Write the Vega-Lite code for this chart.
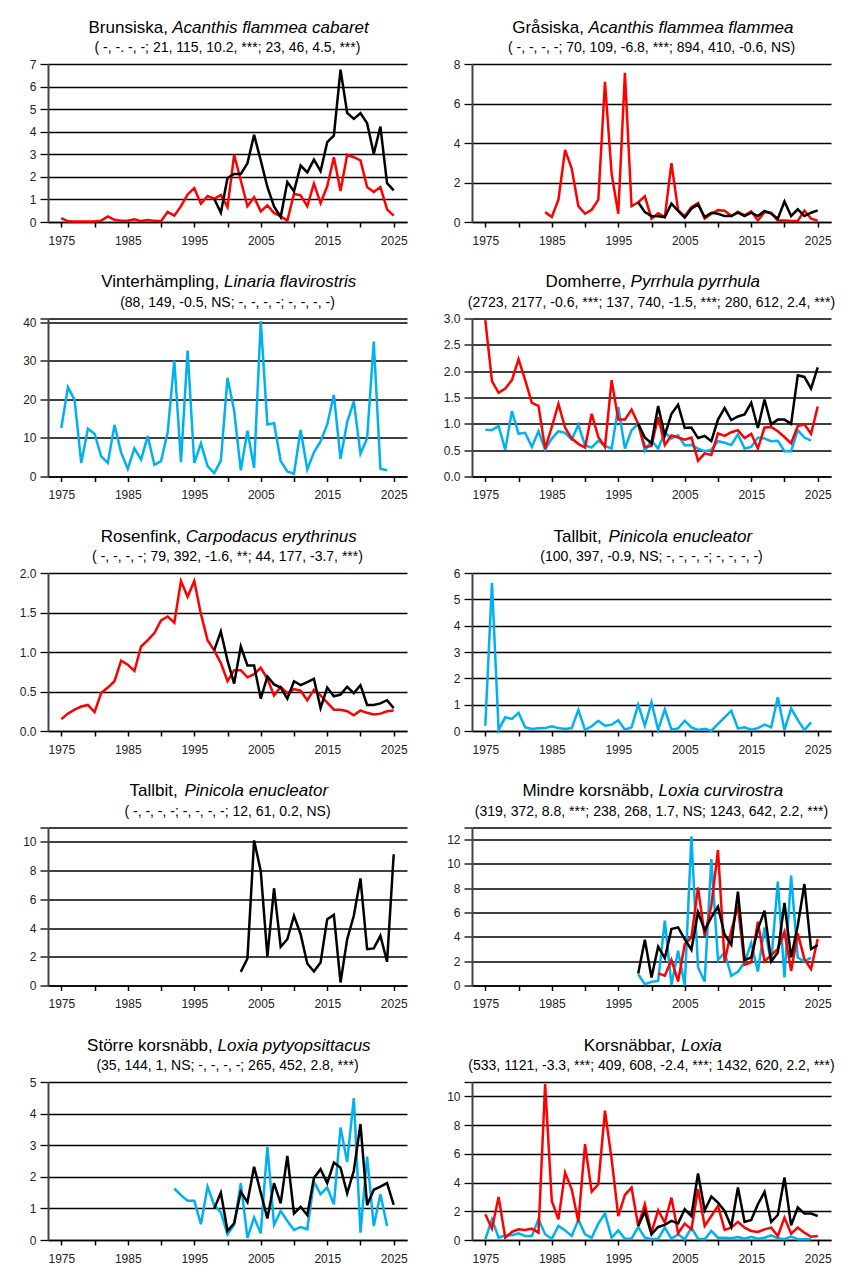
{
"$schema":"https://vega.github.io/schema/vega-lite/v6.json",
"background":"white",
"padding":{"left":19,"top":18,"right":0,"bottom":0},
"columns":2,
"bounds":"flush",
"spacing":{"row":96.5,"column":65},
"config":{
 "view":{"stroke":null},
 "font":"Liberation Sans",
 "title":{"font":"Liberation Sans","fontSize":14,"fontWeight":"normal","color":"#000","anchor":"middle","frame":"group","offset":-37,"baseline":"top"},
 "axis":{"labelFont":"Liberation Sans","labelFontSize":12,"labelColor":"#222","titleFont":"Liberation Sans","titleFontSize":17,"titleFontWeight":"normal","titleColor":"#000","labelOverlap":false,"labelFlush":false,"tickColor":"#000"},
 "axisX":{"grid":false,"tickSize":5,"tickWidth":1.5,"domainColor":"#000","domainWidth":1.5,"labelPadding":8},
 "axisY":{"grid":true,"gridColor":"#000","gridWidth":1.3,"tickSize":8,"tickWidth":1.3,"domainColor":"#444","domainWidth":2,"labelPadding":4}
},
"datasets":{
"p1_rod":[{"year":1975,"value":0.17},{"year":1976,"value":0.03},{"year":1977,"value":0.02},{"year":1978,"value":0.02},{"year":1979,"value":0.02},{"year":1980,"value":0.02},{"year":1981,"value":0.06},{"year":1982,"value":0.25},{"year":1983,"value":0.1},{"year":1984,"value":0.06},{"year":1985,"value":0.06},{"year":1986,"value":0.12},{"year":1987,"value":0.04},{"year":1988,"value":0.09},{"year":1989,"value":0.05},{"year":1990,"value":0.03},{"year":1991,"value":0.45},{"year":1992,"value":0.28},{"year":1993,"value":0.7},{"year":1994,"value":1.22},{"year":1995,"value":1.5},{"year":1996,"value":0.81},{"year":1997,"value":1.15},{"year":1998,"value":1.03},{"year":1999,"value":1.2},{"year":2000,"value":0.66},{"year":2001,"value":2.98},{"year":2002,"value":1.84},{"year":2003,"value":0.7},{"year":2004,"value":1.1},{"year":2005,"value":0.47},{"year":2006,"value":0.74},{"year":2007,"value":0.4},{"year":2008,"value":0.25},{"year":2009,"value":0.06},{"year":2010,"value":1.25},{"year":2011,"value":1.18},{"year":2012,"value":0.7},{"year":2013,"value":1.7},{"year":2014,"value":0.84},{"year":2015,"value":1.58},{"year":2016,"value":2.87},{"year":2017,"value":1.37},{"year":2018,"value":2.98},{"year":2019,"value":2.87},{"year":2020,"value":2.73},{"year":2021,"value":1.55},{"year":2022,"value":1.33},{"year":2023,"value":1.55},{"year":2024,"value":0.56},{"year":2025,"value":0.28}],
"p1_svart":[{"year":1998,"value":1.03},{"year":1999,"value":0.41},{"year":2000,"value":1.95},{"year":2001,"value":2.13},{"year":2002,"value":2.13},{"year":2003,"value":2.6},{"year":2004,"value":3.86},{"year":2005,"value":2.73},{"year":2006,"value":1.55},{"year":2007,"value":0.69},{"year":2008,"value":0.22},{"year":2009,"value":1.77},{"year":2010,"value":1.36},{"year":2011,"value":2.5},{"year":2012,"value":2.2},{"year":2013,"value":2.76},{"year":2014,"value":2.25},{"year":2015,"value":3.54},{"year":2016,"value":3.83},{"year":2017,"value":6.75},{"year":2018,"value":4.83},{"year":2019,"value":4.57},{"year":2020,"value":4.82},{"year":2021,"value":4.38},{"year":2022,"value":3.02},{"year":2023,"value":4.23},{"year":2024,"value":1.72},{"year":2025,"value":1.4}],
"p2_rod":[{"year":1984,"value":0.5},{"year":1985,"value":0.25},{"year":1986,"value":1.13},{"year":1987,"value":3.65},{"year":1988,"value":2.7},{"year":1989,"value":0.8},{"year":1990,"value":0.42},{"year":1991,"value":0.62},{"year":1992,"value":1.13},{"year":1993,"value":7.1},{"year":1994,"value":2.45},{"year":1995,"value":0.42},{"year":1996,"value":7.55},{"year":1997,"value":0.8},{"year":1998,"value":1.0},{"year":1999,"value":1.3},{"year":2000,"value":0.17},{"year":2001,"value":0.44},{"year":2002,"value":0.25},{"year":2003,"value":2.98},{"year":2004,"value":0.6},{"year":2005,"value":0.3},{"year":2006,"value":0.75},{"year":2007,"value":0.96},{"year":2008,"value":0.17},{"year":2009,"value":0.42},{"year":2010,"value":0.6},{"year":2011,"value":0.57},{"year":2012,"value":0.3},{"year":2013,"value":0.52},{"year":2014,"value":0.34},{"year":2015,"value":0.54},{"year":2016,"value":0.08},{"year":2017,"value":0.5},{"year":2018,"value":0.47},{"year":2019,"value":0.07},{"year":2020,"value":0.08},{"year":2021,"value":0.05},{"year":2022,"value":0.05},{"year":2023,"value":0.58},{"year":2024,"value":0.17},{"year":2025,"value":0.07}],
"p2_svart":[{"year":1998,"value":1.0},{"year":1999,"value":0.5},{"year":2000,"value":0.3},{"year":2001,"value":0.29},{"year":2002,"value":0.25},{"year":2003,"value":0.93},{"year":2004,"value":0.56},{"year":2005,"value":0.22},{"year":2006,"value":0.67},{"year":2007,"value":0.89},{"year":2008,"value":0.25},{"year":2009,"value":0.47},{"year":2010,"value":0.42},{"year":2011,"value":0.3},{"year":2012,"value":0.3},{"year":2013,"value":0.47},{"year":2014,"value":0.3},{"year":2015,"value":0.47},{"year":2016,"value":0.3},{"year":2017,"value":0.56},{"year":2018,"value":0.42},{"year":2019,"value":0.17},{"year":2020,"value":1.04},{"year":2021,"value":0.3},{"year":2022,"value":0.64},{"year":2023,"value":0.3},{"year":2024,"value":0.47},{"year":2025,"value":0.59}],
"p3_bla":[{"year":1975,"value":12.6},{"year":1976,"value":23.2},{"year":1977,"value":19.9},{"year":1978,"value":3.5},{"year":1979,"value":12.4},{"year":1980,"value":11.1},{"year":1981,"value":5.2},{"year":1982,"value":3.5},{"year":1983,"value":13.4},{"year":1984,"value":6.2},{"year":1985,"value":2.0},{"year":1986,"value":7.3},{"year":1987,"value":4.4},{"year":1988,"value":10.5},{"year":1989,"value":3.0},{"year":1990,"value":4.0},{"year":1991,"value":11.5},{"year":1992,"value":30.1},{"year":1993,"value":3.7},{"year":1994,"value":32.7},{"year":1995,"value":3.5},{"year":1996,"value":8.6},{"year":1997,"value":2.7},{"year":1998,"value":0.9},{"year":1999,"value":4.1},{"year":2000,"value":25.6},{"year":2001,"value":17.1},{"year":2002,"value":1.6},{"year":2003,"value":11.9},{"year":2004,"value":2.2},{"year":2005,"value":40.3},{"year":2006,"value":13.5},{"year":2007,"value":13.8},{"year":2008,"value":4.0},{"year":2009,"value":1.3},{"year":2010,"value":0.7},{"year":2011,"value":12.1},{"year":2012,"value":1.8},{"year":2013,"value":6.3},{"year":2014,"value":9.1},{"year":2015,"value":13.5},{"year":2016,"value":21.2},{"year":2017,"value":4.6},{"year":2018,"value":14.1},{"year":2019,"value":19.5},{"year":2020,"value":5.9},{"year":2021,"value":9.9},{"year":2022,"value":35.0},{"year":2023,"value":2.0},{"year":2024,"value":1.6}],
"p4_bla":[{"year":1975,"value":0.89},{"year":1976,"value":0.88},{"year":1977,"value":0.96},{"year":1978,"value":0.51},{"year":1979,"value":1.24},{"year":1980,"value":0.81},{"year":1981,"value":0.83},{"year":1982,"value":0.56},{"year":1983,"value":0.86},{"year":1984,"value":0.51},{"year":1985,"value":0.72},{"year":1986,"value":0.86},{"year":1987,"value":0.83},{"year":1988,"value":0.7},{"year":1989,"value":0.98},{"year":1990,"value":0.59},{"year":1991,"value":0.55},{"year":1992,"value":0.68},{"year":1993,"value":0.58},{"year":1994,"value":0.53},{"year":1995,"value":1.32},{"year":1996,"value":0.53},{"year":1997,"value":0.88},{"year":1998,"value":1.0},{"year":1999,"value":0.49},{"year":2000,"value":0.68},{"year":2001,"value":0.53},{"year":2002,"value":0.84},{"year":2003,"value":0.72},{"year":2004,"value":0.78},{"year":2005,"value":0.59},{"year":2006,"value":0.6},{"year":2007,"value":0.53},{"year":2008,"value":0.48},{"year":2009,"value":0.51},{"year":2010,"value":0.67},{"year":2011,"value":0.64},{"year":2012,"value":0.6},{"year":2013,"value":0.8},{"year":2014,"value":0.53},{"year":2015,"value":0.56},{"year":2016,"value":0.74},{"year":2017,"value":0.72},{"year":2018,"value":0.67},{"year":2019,"value":0.68},{"year":2020,"value":0.48},{"year":2021,"value":0.48},{"year":2022,"value":0.88},{"year":2023,"value":0.74},{"year":2024,"value":0.68}],
"p4_rod":[{"year":1975,"value":2.97},{"year":1976,"value":1.81},{"year":1977,"value":1.59},{"year":1978,"value":1.67},{"year":1979,"value":1.83},{"year":1980,"value":2.23},{"year":1981,"value":1.83},{"year":1982,"value":1.4},{"year":1983,"value":1.34},{"year":1984,"value":0.53},{"year":1985,"value":0.94},{"year":1986,"value":1.38},{"year":1987,"value":0.93},{"year":1988,"value":0.72},{"year":1989,"value":0.62},{"year":1990,"value":0.55},{"year":1991,"value":1.19},{"year":1992,"value":0.75},{"year":1993,"value":0.56},{"year":1994,"value":1.83},{"year":1995,"value":1.08},{"year":1996,"value":1.08},{"year":1997,"value":1.27},{"year":1998,"value":1.0},{"year":1999,"value":0.56},{"year":2000,"value":0.58},{"year":2001,"value":1.13},{"year":2002,"value":0.6},{"year":2003,"value":0.78},{"year":2004,"value":0.74},{"year":2005,"value":0.7},{"year":2006,"value":0.74},{"year":2007,"value":0.3},{"year":2008,"value":0.44},{"year":2009,"value":0.41},{"year":2010,"value":0.82},{"year":2011,"value":0.77},{"year":2012,"value":0.84},{"year":2013,"value":0.88},{"year":2014,"value":0.73},{"year":2015,"value":0.81},{"year":2016,"value":0.53},{"year":2017,"value":0.93},{"year":2018,"value":0.94},{"year":2019,"value":0.86},{"year":2020,"value":0.75},{"year":2021,"value":0.63},{"year":2022,"value":0.96},{"year":2023,"value":0.99},{"year":2024,"value":0.81},{"year":2025,"value":1.33}],
"p4_svart":[{"year":1998,"value":1.0},{"year":1999,"value":0.74},{"year":2000,"value":0.63},{"year":2001,"value":1.34},{"year":2002,"value":0.78},{"year":2003,"value":1.19},{"year":2004,"value":1.36},{"year":2005,"value":0.92},{"year":2006,"value":0.93},{"year":2007,"value":0.73},{"year":2008,"value":0.77},{"year":2009,"value":0.67},{"year":2010,"value":1.08},{"year":2011,"value":1.3},{"year":2012,"value":1.07},{"year":2013,"value":1.14},{"year":2014,"value":1.18},{"year":2015,"value":1.4},{"year":2016,"value":0.92},{"year":2017,"value":1.46},{"year":2018,"value":0.99},{"year":2019,"value":1.08},{"year":2020,"value":1.08},{"year":2021,"value":1.0},{"year":2022,"value":1.92},{"year":2023,"value":1.89},{"year":2024,"value":1.67},{"year":2025,"value":2.07}],
"p5_rod":[{"year":1975,"value":0.15},{"year":1976,"value":0.22},{"year":1977,"value":0.27},{"year":1978,"value":0.31},{"year":1979,"value":0.33},{"year":1980,"value":0.24},{"year":1981,"value":0.48},{"year":1982,"value":0.55},{"year":1983,"value":0.63},{"year":1984,"value":0.89},{"year":1985,"value":0.84},{"year":1986,"value":0.76},{"year":1987,"value":1.07},{"year":1988,"value":1.15},{"year":1989,"value":1.24},{"year":1990,"value":1.4},{"year":1991,"value":1.45},{"year":1992,"value":1.37},{"year":1993,"value":1.9},{"year":1994,"value":1.7},{"year":1995,"value":1.9},{"year":1996,"value":1.48},{"year":1997,"value":1.15},{"year":1998,"value":1.02},{"year":1999,"value":0.86},{"year":2000,"value":0.63},{"year":2001,"value":0.77},{"year":2002,"value":0.77},{"year":2003,"value":0.68},{"year":2004,"value":0.72},{"year":2005,"value":0.8},{"year":2006,"value":0.66},{"year":2007,"value":0.45},{"year":2008,"value":0.56},{"year":2009,"value":0.48},{"year":2010,"value":0.53},{"year":2011,"value":0.51},{"year":2012,"value":0.39},{"year":2013,"value":0.52},{"year":2014,"value":0.45},{"year":2015,"value":0.36},{"year":2016,"value":0.27},{"year":2017,"value":0.27},{"year":2018,"value":0.25},{"year":2019,"value":0.2},{"year":2020,"value":0.26},{"year":2021,"value":0.23},{"year":2022,"value":0.21},{"year":2023,"value":0.22},{"year":2024,"value":0.25},{"year":2025,"value":0.26}],
"p5_svart":[{"year":1998,"value":1.02},{"year":1999,"value":1.26},{"year":2000,"value":0.89},{"year":2001,"value":0.6},{"year":2002,"value":1.07},{"year":2003,"value":0.83},{"year":2004,"value":0.83},{"year":2005,"value":0.41},{"year":2006,"value":0.69},{"year":2007,"value":0.59},{"year":2008,"value":0.55},{"year":2009,"value":0.41},{"year":2010,"value":0.63},{"year":2011,"value":0.58},{"year":2012,"value":0.62},{"year":2013,"value":0.66},{"year":2014,"value":0.29},{"year":2015,"value":0.55},{"year":2016,"value":0.44},{"year":2017,"value":0.46},{"year":2018,"value":0.56},{"year":2019,"value":0.48},{"year":2020,"value":0.58},{"year":2021,"value":0.33},{"year":2022,"value":0.33},{"year":2023,"value":0.35},{"year":2024,"value":0.39},{"year":2025,"value":0.29}],
"p6_bla":[{"year":1975,"value":0.2},{"year":1976,"value":5.63},{"year":1977,"value":0.04},{"year":1978,"value":0.52},{"year":1979,"value":0.46},{"year":1980,"value":0.69},{"year":1981,"value":0.14},{"year":1982,"value":0.08},{"year":1983,"value":0.1},{"year":1984,"value":0.11},{"year":1985,"value":0.18},{"year":1986,"value":0.11},{"year":1987,"value":0.08},{"year":1988,"value":0.11},{"year":1989,"value":0.8},{"year":1990,"value":0.04},{"year":1991,"value":0.18},{"year":1992,"value":0.39},{"year":1993,"value":0.2},{"year":1994,"value":0.24},{"year":1995,"value":0.41},{"year":1996,"value":0.05},{"year":1997,"value":0.14},{"year":1998,"value":1.0},{"year":1999,"value":0.2},{"year":2000,"value":1.09},{"year":2001,"value":0.04},{"year":2002,"value":0.82},{"year":2003,"value":0.05},{"year":2004,"value":0.1},{"year":2005,"value":0.39},{"year":2006,"value":0.14},{"year":2007,"value":0.04},{"year":2008,"value":0.08},{"year":2009,"value":0.01},{"year":2010,"value":0.27},{"year":2011,"value":0.52},{"year":2012,"value":0.77},{"year":2013,"value":0.1},{"year":2014,"value":0.14},{"year":2015,"value":0.05},{"year":2016,"value":0.11},{"year":2017,"value":0.24},{"year":2018,"value":0.14},{"year":2019,"value":1.28},{"year":2020,"value":0.04},{"year":2021,"value":0.86},{"year":2022,"value":0.42},{"year":2023,"value":0.04},{"year":2024,"value":0.33}],
"p7_svart":[{"year":2002,"value":0.95},{"year":2003,"value":1.88},{"year":2004,"value":10.1},{"year":2005,"value":7.98},{"year":2006,"value":2.02},{"year":2007,"value":6.77},{"year":2008,"value":2.69},{"year":2009,"value":3.22},{"year":2010,"value":4.85},{"year":2011,"value":3.57},{"year":2012,"value":1.53},{"year":2013,"value":0.97},{"year":2014,"value":1.6},{"year":2015,"value":4.62},{"year":2016,"value":4.92},{"year":2017,"value":0.21},{"year":2018,"value":3.22},{"year":2019,"value":4.85},{"year":2020,"value":7.45},{"year":2021,"value":2.53},{"year":2022,"value":2.58},{"year":2023,"value":3.46},{"year":2024,"value":1.65},{"year":2025,"value":9.14}],
"p8_bla":[{"year":1998,"value":0.93},{"year":1999,"value":0.11},{"year":2000,"value":0.3},{"year":2001,"value":0.38},{"year":2002,"value":5.33},{"year":2003,"value":0.05},{"year":2004,"value":2.86},{"year":2005,"value":0.0},{"year":2006,"value":12.28},{"year":2007,"value":1.48},{"year":2008,"value":0.33},{"year":2009,"value":10.4},{"year":2010,"value":2.1},{"year":2011,"value":2.72},{"year":2012,"value":0.8},{"year":2013,"value":1.13},{"year":2014,"value":1.9},{"year":2015,"value":3.49},{"year":2016,"value":1.15},{"year":2017,"value":4.78},{"year":2018,"value":1.9},{"year":2019,"value":8.54},{"year":2020,"value":0.66},{"year":2021,"value":9.04},{"year":2022,"value":2.3},{"year":2023,"value":1.98},{"year":2024,"value":2.3}],
"p8_rod":[{"year":2001,"value":1.0},{"year":2002,"value":0.8},{"year":2003,"value":2.1},{"year":2004,"value":0.33},{"year":2005,"value":3.4},{"year":2006,"value":3.96},{"year":2007,"value":8.08},{"year":2008,"value":4.09},{"year":2009,"value":6.57},{"year":2010,"value":11.15},{"year":2011,"value":1.98},{"year":2012,"value":4.5},{"year":2013,"value":6.57},{"year":2014,"value":1.7},{"year":2015,"value":1.9},{"year":2016,"value":5.25},{"year":2017,"value":1.98},{"year":2018,"value":2.5},{"year":2019,"value":3.0},{"year":2020,"value":4.42},{"year":2021,"value":1.2},{"year":2022,"value":4.29},{"year":2023,"value":2.17},{"year":2024,"value":1.35},{"year":2025,"value":3.82}],
"p8_svart":[{"year":1998,"value":0.99},{"year":1999,"value":3.76},{"year":2000,"value":0.66},{"year":2001,"value":3.19},{"year":2002,"value":2.25},{"year":2003,"value":4.64},{"year":2004,"value":4.78},{"year":2005,"value":3.82},{"year":2006,"value":2.94},{"year":2007,"value":6.02},{"year":2008,"value":4.56},{"year":2009,"value":5.6},{"year":2010,"value":6.48},{"year":2011,"value":4.18},{"year":2012,"value":3.35},{"year":2013,"value":7.72},{"year":2014,"value":2.09},{"year":2015,"value":2.31},{"year":2016,"value":4.64},{"year":2017,"value":6.15},{"year":2018,"value":1.98},{"year":2019,"value":2.72},{"year":2020,"value":6.79},{"year":2021,"value":2.31},{"year":2022,"value":4.92},{"year":2023,"value":8.35},{"year":2024,"value":3.0},{"year":2025,"value":3.32}],
"p9_bla":[{"year":1992,"value":1.63},{"year":1993,"value":1.42},{"year":1994,"value":1.24},{"year":1995,"value":1.24},{"year":1996,"value":0.5},{"year":1997,"value":1.69},{"year":1998,"value":1.1},{"year":1999,"value":0.87},{"year":2000,"value":0.18},{"year":2001,"value":0.48},{"year":2002,"value":1.8},{"year":2003,"value":0.07},{"year":2004,"value":0.71},{"year":2005,"value":0.21},{"year":2006,"value":2.95},{"year":2007,"value":0.48},{"year":2008,"value":0.92},{"year":2009,"value":0.6},{"year":2010,"value":0.32},{"year":2011,"value":0.41},{"year":2012,"value":0.34},{"year":2013,"value":1.84},{"year":2014,"value":1.45},{"year":2015,"value":1.66},{"year":2016,"value":1.13},{"year":2017,"value":3.56},{"year":2018,"value":2.47},{"year":2019,"value":4.49},{"year":2020,"value":0.23},{"year":2021,"value":2.64},{"year":2022,"value":0.44},{"year":2023,"value":1.45},{"year":2024,"value":0.44}],
"p9_svart":[{"year":1998,"value":0.99},{"year":1999,"value":1.5},{"year":2000,"value":0.29},{"year":2001,"value":0.53},{"year":2002,"value":1.53},{"year":2003,"value":1.2},{"year":2004,"value":2.32},{"year":2005,"value":1.5},{"year":2006,"value":0.68},{"year":2007,"value":1.8},{"year":2008,"value":1.16},{"year":2009,"value":2.66},{"year":2010,"value":0.84},{"year":2011,"value":1.05},{"year":2012,"value":0.79},{"year":2013,"value":1.96},{"year":2014,"value":2.24},{"year":2015,"value":1.8},{"year":2016,"value":2.45},{"year":2017,"value":2.29},{"year":2018,"value":1.48},{"year":2019,"value":2.19},{"year":2020,"value":3.67},{"year":2021,"value":1.1},{"year":2022,"value":1.59},{"year":2023,"value":1.69},{"year":2024,"value":1.8},{"year":2025,"value":1.11}],
"p10_bla":[{"year":1975,"value":0.05},{"year":1976,"value":1.44},{"year":1977,"value":0.16},{"year":1978,"value":0.33},{"year":1979,"value":0.33},{"year":1980,"value":0.47},{"year":1981,"value":0.28},{"year":1982,"value":0.28},{"year":1983,"value":1.44},{"year":1984,"value":0.4},{"year":1985,"value":0.09},{"year":1986,"value":0.98},{"year":1987,"value":0.67},{"year":1988,"value":0.28},{"year":1989,"value":1.4},{"year":1990,"value":0.4},{"year":1991,"value":0.16},{"year":1992,"value":1.14},{"year":1993,"value":1.84},{"year":1994,"value":0.16},{"year":1995,"value":0.67},{"year":1996,"value":0.09},{"year":1997,"value":0.09},{"year":1998,"value":0.91},{"year":1999,"value":0.16},{"year":2000,"value":0.05},{"year":2001,"value":0.09},{"year":2002,"value":0.86},{"year":2003,"value":0.09},{"year":2004,"value":0.4},{"year":2005,"value":0.05},{"year":2006,"value":0.86},{"year":2007,"value":0.09},{"year":2008,"value":0.05},{"year":2009,"value":0.63},{"year":2010,"value":0.16},{"year":2011,"value":0.16},{"year":2012,"value":0.12},{"year":2013,"value":0.21},{"year":2014,"value":0.09},{"year":2015,"value":0.23},{"year":2016,"value":0.09},{"year":2017,"value":0.16},{"year":2018,"value":0.33},{"year":2019,"value":0.12},{"year":2020,"value":0.05},{"year":2021,"value":0.23},{"year":2022,"value":0.05},{"year":2023,"value":0.05},{"year":2024,"value":0.05}],
"p10_rod":[{"year":1975,"value":1.79},{"year":1976,"value":0.79},{"year":1977,"value":3.0},{"year":1978,"value":0.16},{"year":1979,"value":0.56},{"year":1980,"value":0.74},{"year":1981,"value":0.7},{"year":1982,"value":0.79},{"year":1983,"value":0.51},{"year":1984,"value":10.86},{"year":1985,"value":2.72},{"year":1986,"value":1.44},{"year":1987,"value":4.7},{"year":1988,"value":3.53},{"year":1989,"value":1.26},{"year":1990,"value":6.67},{"year":1991,"value":3.37},{"year":1992,"value":3.88},{"year":1993,"value":9.0},{"year":1994,"value":5.63},{"year":1995,"value":1.67},{"year":1996,"value":3.14},{"year":1997,"value":3.65},{"year":1998,"value":0.98},{"year":1999,"value":2.49},{"year":2000,"value":0.51},{"year":2001,"value":2.07},{"year":2002,"value":1.21},{"year":2003,"value":2.95},{"year":2004,"value":0.47},{"year":2005,"value":1.14},{"year":2006,"value":0.74},{"year":2007,"value":3.53},{"year":2008,"value":0.98},{"year":2009,"value":1.67},{"year":2010,"value":2.37},{"year":2011,"value":0.7},{"year":2012,"value":0.86},{"year":2013,"value":1.26},{"year":2014,"value":0.86},{"year":2015,"value":0.63},{"year":2016,"value":0.56},{"year":2017,"value":0.74},{"year":2018,"value":0.86},{"year":2019,"value":0.28},{"year":2020,"value":1.56},{"year":2021,"value":0.44},{"year":2022,"value":0.86},{"year":2023,"value":0.51},{"year":2024,"value":0.23},{"year":2025,"value":0.28}],
"p10_svart":[{"year":1998,"value":0.98},{"year":1999,"value":1.98},{"year":2000,"value":0.4},{"year":2001,"value":0.91},{"year":2002,"value":1.05},{"year":2003,"value":1.33},{"year":2004,"value":1.16},{"year":2005,"value":2.14},{"year":2006,"value":1.67},{"year":2007,"value":4.63},{"year":2008,"value":2.07},{"year":2009,"value":3.02},{"year":2010,"value":2.6},{"year":2011,"value":2.02},{"year":2012,"value":0.93},{"year":2013,"value":3.65},{"year":2014,"value":1.26},{"year":2015,"value":1.4},{"year":2016,"value":2.49},{"year":2017,"value":3.35},{"year":2018,"value":1.26},{"year":2019,"value":1.74},{"year":2020,"value":4.35},{"year":2021,"value":1.02},{"year":2022,"value":2.26},{"year":2023,"value":1.84},{"year":2024,"value":1.84},{"year":2025,"value":1.67}]
},
"concat":[
{"width":359,"height":158,
 "title":{"text":"( -, -. -, -;  21, 115, 10.2, ***; 23, 46, 4.5, ***)"},
 "encoding":{
  "x":{"field":"year","type":"quantitative","scale":{"domain":[1973,2027],"nice":false,"zero":false},"axis":{"values":[1975,1980,1985,1990,1995,2000,2005,2010,2015,2020,2025],"format":"d","labelExpr":"datum.value % 10 == 5 ? datum.label : ''","title":"Acanthis flammea cabaret","titleFontStyle":"italic","titleX":123.7,"titleY":-189.6,"titleAngle":0,"titleAlign":"left","titleBaseline":"alphabetic"}},
  "y":{"field":"value","type":"quantitative","scale":{"domain":[0,7],"nice":false},"axis":{"values":[0,1,2,3,4,5,6,7],"format":"d","title":"Brunsiska,","titleX":40,"titleY":-31.6,"titleAngle":0,"titleAlign":"left","titleBaseline":"alphabetic"}}},
 "layer":[
  {"data":{"name":"p1_rod"},"mark":{"type":"line","color":"#ff0000","strokeWidth":2.5}},
  {"data":{"name":"p1_svart"},"mark":{"type":"line","color":"#000000","strokeWidth":2.5}}]},
{"width":359,"height":158,
 "title":{"text":"( -, -, -, -;  70, 109, -6.8, ***; 894, 410, -0.6, NS)"},
 "encoding":{
  "x":{"field":"year","type":"quantitative","scale":{"domain":[1973,2027],"nice":false,"zero":false},"axis":{"values":[1975,1980,1985,1990,1995,2000,2005,2010,2015,2020,2025],"format":"d","labelExpr":"datum.value % 10 == 5 ? datum.label : ''","title":"Acanthis flammea flammea","titleFontStyle":"italic","titleX":116,"titleY":-189.6,"titleAngle":0,"titleAlign":"left","titleBaseline":"alphabetic"}},
  "y":{"field":"value","type":"quantitative","scale":{"domain":[0,8],"nice":false},"axis":{"values":[0,2,4,6,8],"format":"d","title":"Gråsiska,","titleX":39.7,"titleY":-31.6,"titleAngle":0,"titleAlign":"left","titleBaseline":"alphabetic"}}},
 "layer":[
  {"data":{"name":"p2_rod"},"mark":{"type":"line","color":"#ff0000","strokeWidth":2.5}},
  {"data":{"name":"p2_svart"},"mark":{"type":"line","color":"#000000","strokeWidth":2.5}}]},
{"width":359,"height":158,
 "title":{"text":"(88, 149, -0.5, NS; -, -, -, -; -, -, -, -)"},
 "encoding":{
  "x":{"field":"year","type":"quantitative","scale":{"domain":[1973,2027],"nice":false,"zero":false},"axis":{"values":[1975,1980,1985,1990,1995,2000,2005,2010,2015,2020,2025],"format":"d","labelExpr":"datum.value % 10 == 5 ? datum.label : ''","title":"Linaria flavirostris","titleFontStyle":"italic","titleX":175.6,"titleY":-189.6,"titleAngle":0,"titleAlign":"left","titleBaseline":"alphabetic"}},
  "y":{"field":"value","type":"quantitative","scale":{"domain":[0,41],"nice":false},"axis":{"values":[0,10,20,30,40,41],"format":"d","labelExpr":"datum.value == 41 ? '' : datum.label","title":"Vinterhämpling,","titleX":52.8,"titleY":-31.6,"titleAngle":0,"titleAlign":"left","titleBaseline":"alphabetic"}}},
 "layer":[
  {"data":{"name":"p3_bla"},"mark":{"type":"line","color":"#00b0f0","strokeWidth":2.5}}]},
{"width":359,"height":158,
 "title":{"text":"(2723, 2177, -0.6, ***;  137, 740, -1.5, ***; 280, 612, 2.4, ***)"},
 "encoding":{
  "x":{"field":"year","type":"quantitative","scale":{"domain":[1973,2027],"nice":false,"zero":false},"axis":{"values":[1975,1980,1985,1990,1995,2000,2005,2010,2015,2020,2025],"format":"d","labelExpr":"datum.value % 10 == 5 ? datum.label : ''","title":"Pyrrhula pyrrhula","titleFontStyle":"italic","titleX":158.1,"titleY":-189.6,"titleAngle":0,"titleAlign":"left","titleBaseline":"alphabetic"}},
  "y":{"field":"value","type":"quantitative","scale":{"domain":[0,3],"nice":false},"axis":{"values":[0,0.5,1,1.5,2,2.5,3],"format":".1f","title":"Domherre,","titleX":73.1,"titleY":-31.6,"titleAngle":0,"titleAlign":"left","titleBaseline":"alphabetic"}}},
 "layer":[
  {"data":{"name":"p4_bla"},"mark":{"type":"line","color":"#00b0f0","strokeWidth":2.5}},
  {"data":{"name":"p4_rod"},"mark":{"type":"line","color":"#ff0000","strokeWidth":2.5}},
  {"data":{"name":"p4_svart"},"mark":{"type":"line","color":"#000000","strokeWidth":2.5}}]},
{"width":359,"height":158,
 "title":{"text":"( -, -, -, -;  79, 392, -1.6, **; 44, 177, -3.7, ***)"},
 "encoding":{
  "x":{"field":"year","type":"quantitative","scale":{"domain":[1973,2027],"nice":false,"zero":false},"axis":{"values":[1975,1980,1985,1990,1995,2000,2005,2010,2015,2020,2025],"format":"d","labelExpr":"datum.value % 10 == 5 ? datum.label : ''","title":"Carpodacus erythrinus","titleFontStyle":"italic","titleX":137.3,"titleY":-189.6,"titleAngle":0,"titleAlign":"left","titleBaseline":"alphabetic"}},
  "y":{"field":"value","type":"quantitative","scale":{"domain":[0,2],"nice":false},"axis":{"values":[0,0.5,1,1.5,2],"format":".1f","title":"Rosenfink,","titleX":52.3,"titleY":-31.6,"titleAngle":0,"titleAlign":"left","titleBaseline":"alphabetic"}}},
 "layer":[
  {"data":{"name":"p5_rod"},"mark":{"type":"line","color":"#ff0000","strokeWidth":2.5}},
  {"data":{"name":"p5_svart"},"mark":{"type":"line","color":"#000000","strokeWidth":2.5}}]},
{"width":359,"height":158,
 "title":{"text":"(100, 397, -0.9, NS;  -, -, -, -; -, -, -, -)"},
 "encoding":{
  "x":{"field":"year","type":"quantitative","scale":{"domain":[1973,2027],"nice":false,"zero":false},"axis":{"values":[1975,1980,1985,1990,1995,2000,2005,2010,2015,2020,2025],"format":"d","labelExpr":"datum.value % 10 == 5 ? datum.label : ''","title":"Pinicola enucleator","titleFontStyle":"italic","titleX":135.9,"titleY":-189.6,"titleAngle":0,"titleAlign":"left","titleBaseline":"alphabetic"}},
  "y":{"field":"value","type":"quantitative","scale":{"domain":[0,6],"nice":false},"axis":{"values":[0,1,2,3,4,5,6],"format":"d","title":"Tallbit,","titleX":81.1,"titleY":-31.6,"titleAngle":0,"titleAlign":"left","titleBaseline":"alphabetic"}}},
 "layer":[
  {"data":{"name":"p6_bla"},"mark":{"type":"line","color":"#00b0f0","strokeWidth":2.5}}]},
{"width":359,"height":158,
 "title":{"text":"( -, -, -, -;  -, -, -, -; 12, 61, 0.2, NS)"},
 "encoding":{
  "x":{"field":"year","type":"quantitative","scale":{"domain":[1973,2027],"nice":false,"zero":false},"axis":{"values":[1975,1980,1985,1990,1995,2000,2005,2010,2015,2020,2025],"format":"d","labelExpr":"datum.value % 10 == 5 ? datum.label : ''","title":"Pinicola enucleator","titleFontStyle":"italic","titleX":135.9,"titleY":-189.6,"titleAngle":0,"titleAlign":"left","titleBaseline":"alphabetic"}},
  "y":{"field":"value","type":"quantitative","scale":{"domain":[0,11],"nice":false},"axis":{"values":[0,2,4,6,8,10,11],"format":"d","labelExpr":"datum.value == 11 ? '' : datum.label","title":"Tallbit,","titleX":81.1,"titleY":-31.6,"titleAngle":0,"titleAlign":"left","titleBaseline":"alphabetic"}}},
 "layer":[
  {"data":{"name":"p7_svart"},"mark":{"type":"line","color":"#000000","strokeWidth":2.5}}]},
{"width":359,"height":158,
 "title":{"text":"(319, 372, 8.8, ***;  238, 268, 1.7, NS; 1243, 642, 2.2, ***)"},
 "encoding":{
  "x":{"field":"year","type":"quantitative","scale":{"domain":[1973,2027],"nice":false,"zero":false},"axis":{"values":[1975,1980,1985,1990,1995,2000,2005,2010,2015,2020,2025],"format":"d","labelExpr":"datum.value % 10 == 5 ? datum.label : ''","title":"Loxia curvirostra","titleFontStyle":"italic","titleX":186,"titleY":-189.6,"titleAngle":0,"titleAlign":"left","titleBaseline":"alphabetic"}},
  "y":{"field":"value","type":"quantitative","scale":{"domain":[0,13],"nice":false},"axis":{"values":[0,2,4,6,8,10,12,13],"format":"d","labelExpr":"datum.value == 13 ? '' : datum.label","title":"Mindre korsnäbb,","titleX":49.9,"titleY":-31.6,"titleAngle":0,"titleAlign":"left","titleBaseline":"alphabetic"}}},
 "layer":[
  {"data":{"name":"p8_bla"},"mark":{"type":"line","color":"#00b0f0","strokeWidth":2.5}},
  {"data":{"name":"p8_rod"},"mark":{"type":"line","color":"#ff0000","strokeWidth":2.5}},
  {"data":{"name":"p8_svart"},"mark":{"type":"line","color":"#000000","strokeWidth":2.5}}]},
{"width":359,"height":158,
 "title":{"text":"(35, 144, 1, NS;  -, -, -, -; 265, 452, 2.8, ***)"},
 "encoding":{
  "x":{"field":"year","type":"quantitative","scale":{"domain":[1973,2027],"nice":false,"zero":false},"axis":{"values":[1975,1980,1985,1990,1995,2000,2005,2010,2015,2020,2025],"format":"d","labelExpr":"datum.value % 10 == 5 ? datum.label : ''","title":"Loxia pytyopsittacus","titleFontStyle":"italic","titleX":169,"titleY":-189.6,"titleAngle":0,"titleAlign":"left","titleBaseline":"alphabetic"}},
  "y":{"field":"value","type":"quantitative","scale":{"domain":[0,5],"nice":false},"axis":{"values":[0,1,2,3,4,5],"format":"d","title":"Större korsnäbb,","titleX":38.6,"titleY":-31.6,"titleAngle":0,"titleAlign":"left","titleBaseline":"alphabetic"}}},
 "layer":[
  {"data":{"name":"p9_bla"},"mark":{"type":"line","color":"#00b0f0","strokeWidth":2.5}},
  {"data":{"name":"p9_svart"},"mark":{"type":"line","color":"#000000","strokeWidth":2.5}}]},
{"width":359,"height":158,
 "title":{"text":"(533, 1121, -3.3, ***;  409, 608, -2.4, ***; 1432, 620, 2.2, ***)"},
 "encoding":{
  "x":{"field":"year","type":"quantitative","scale":{"domain":[1973,2027],"nice":false,"zero":false},"axis":{"values":[1975,1980,1985,1990,1995,2000,2005,2010,2015,2020,2025],"format":"d","labelExpr":"datum.value % 10 == 5 ? datum.label : ''","title":"Loxia","titleFontStyle":"italic","titleX":208.6,"titleY":-189.6,"titleAngle":0,"titleAlign":"left","titleBaseline":"alphabetic"}},
  "y":{"field":"value","type":"quantitative","scale":{"domain":[0,11],"nice":false},"axis":{"values":[0,2,4,6,8,10,11],"format":"d","labelExpr":"datum.value == 11 ? '' : datum.label","title":"Korsnäbbar,","titleX":111.3,"titleY":-31.6,"titleAngle":0,"titleAlign":"left","titleBaseline":"alphabetic"}}},
 "layer":[
  {"data":{"name":"p10_bla"},"mark":{"type":"line","color":"#00b0f0","strokeWidth":2.5}},
  {"data":{"name":"p10_rod"},"mark":{"type":"line","color":"#ff0000","strokeWidth":2.5}},
  {"data":{"name":"p10_svart"},"mark":{"type":"line","color":"#000000","strokeWidth":2.5}}]}
]
}
